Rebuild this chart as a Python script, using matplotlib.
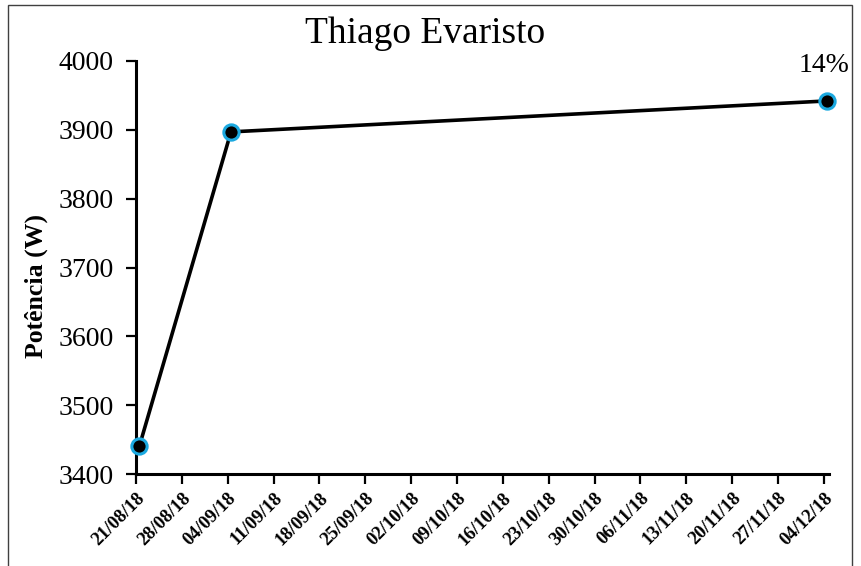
import matplotlib
matplotlib.use("Agg")
import matplotlib.pyplot as plt
import matplotlib.dates as mdates
from matplotlib.patches import Rectangle
import datetime as dt

plt.rcParams['font.family'] = ['Liberation Serif', 'DejaVu Serif']

title = "Thiago Evaristo"
ylabel = "Potência (W)"
dates = ["21/08/18", "04/09/18", "04/12/18"]
values = [3440, 3897, 3942]
annot_text = "14%"
tick_start = "21/08/18"
tick_end = "04/12/18"
tick_step_days = 7
y_ticks = [3400, 3500, 3600, 3700, 3800, 3900, 4000]

parse = lambda s: dt.datetime.strptime(s, "%d/%m/%y")
xd = [parse(d) + dt.timedelta(hours=12) for d in dates]
t0, t1 = parse(tick_start), parse(tick_end)
ticks = []
t = t0
while t <= t1:
    ticks.append(t)
    t += dt.timedelta(days=tick_step_days)

fig = plt.figure(figsize=(8.61, 5.66), dpi=100)
ax = fig.add_axes([136/861, 1-474/566, (829-136)/861, (474-61)/566])

ax.plot(xd, values, color='black', lw=2.6, marker='o', markersize=11,
        markerfacecolor='black', markeredgecolor='#1BA9E0', markeredgewidth=2.2, zorder=3, clip_on=False)

ax.set_xlim(mdates.date2num(t0), mdates.date2num(t1) + 0.8)
ax.set_ylim(3400, 4000)
ax.set_yticks(y_ticks)
ax.set_xticks(ticks)
ax.set_xticklabels([x.strftime("%d/%m/%y") for x in ticks], rotation=45, ha='right',
                   rotation_mode='anchor', fontsize=13.5, fontweight='bold')
ax.tick_params(axis='y', labelsize=20, length=7, width=1.6, direction='out', pad=9)
ax.tick_params(axis='x', length=7, width=1.6, direction='out', pad=4)
for s in ['top', 'right']:
    ax.spines[s].set_visible(False)
for s in ['left', 'bottom']:
    ax.spines[s].set_linewidth(2.2)

ax.set_ylabel(ylabel, fontsize=18.5, fontweight='bold')
ax.yaxis.set_label_coords(-(136-48)/693, (474-286)/413)
fig.text(425/861, 1 - 43/566, title, ha='center', va='baseline', fontsize=27)

ax.annotate(annot_text, (xd[-1], values[-1]), xytext=(-2, 21), textcoords='offset points',
            ha='center', va='baseline', fontsize=20)

fig.add_artist(Rectangle((8/861, -0.05), (852-8)/861, 1 - 5/566 + 0.05, transform=fig.transFigure,
                         fill=False, edgecolor='#404040', lw=1))

fig.savefig("out.png", dpi=100)
